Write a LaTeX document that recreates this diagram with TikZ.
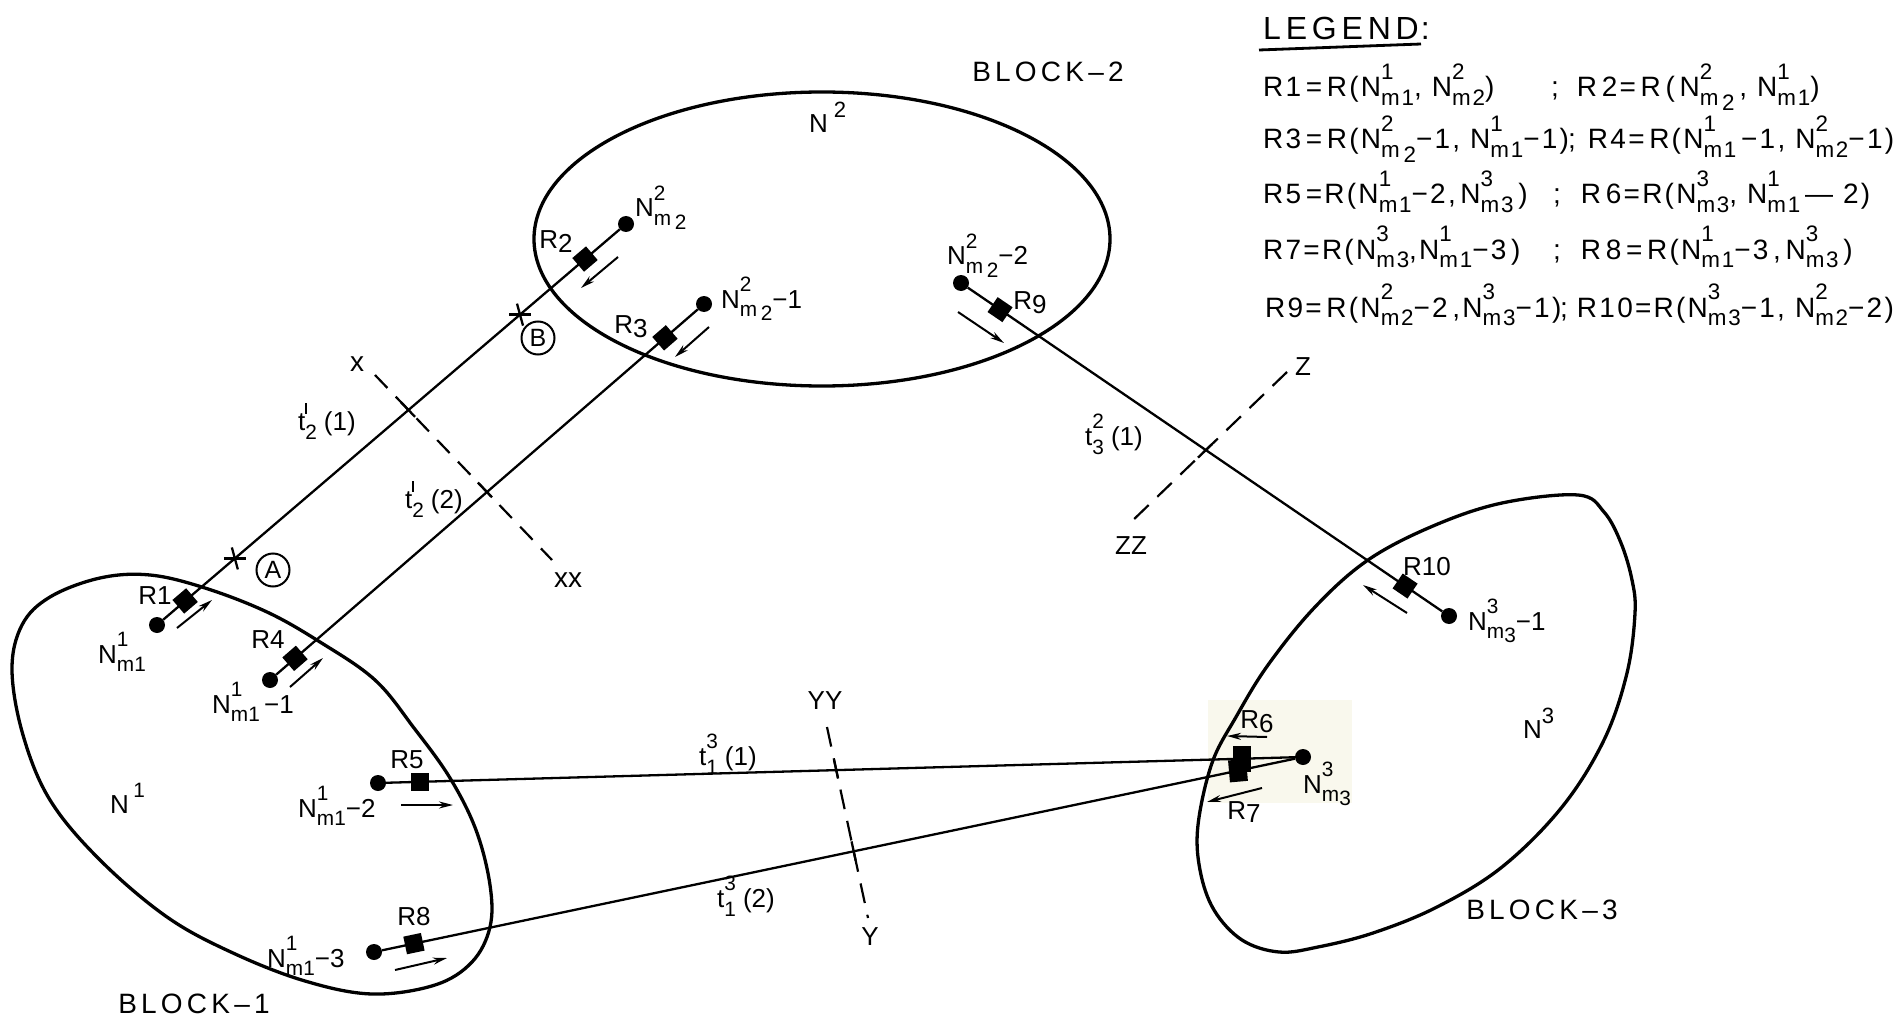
\documentclass[tikz,border=0pt]{standalone}
\usepackage{fontspec}
\setmainfont{Liberation Sans}
\newfontfamily\spacedfont[LetterSpace=15]{Liberation Sans}
\newfontfamily\legfont[LetterSpace=8]{Liberation Sans}
\usepackage{graphicx}
\usetikzlibrary{calc,arrows.meta}
\newcommand\sx[1]{\scalebox{0.8}{#1}}
\newcommand\Nn[2]{N\rlap{\raisebox{0.62em}{\sx{#1}}}\raisebox{-0.32em}{\sx{#2}}}
\newcommand\Tl[3]{t\rlap{\raisebox{0.62em}{\sx{#1}}}\raisebox{-0.35em}{\sx{#2}}\hspace{7pt}#3}
\newcommand\Rl[1]{R\raisebox{-0.15em}{#1}}
\newcommand\pr{\rule{2pt}{0.5em}}
\newcommand\mm[1]{m\,\raisebox{-0.2em}{#1}}
\definecolor{patchc}{RGB}{249,248,237}
\begin{document}
\begin{tikzpicture}[x=1pt,y=-1pt,
  dotn/.style={circle, fill=black, inner sep=0pt, minimum size=16pt},
  sqn/.style={rectangle, fill=black, inner sep=0pt, minimum size=18pt},
  conn/.style={line width=2.3pt},
  blk/.style={line width=3.3pt},
  dirarr/.style={line width=2pt, -{Stealth[length=14pt,width=7pt]}},
  dsh/.style={line width=2.2pt, dash pattern=on 20pt off 12pt},
  lab/.style={inner sep=0pt, font=\fontsize{26}{28}\selectfont},
  lbw/.style={inner sep=0pt, anchor=base west, font=\fontsize{26}{28}\selectfont},
  leg/.style={inner sep=0pt, anchor=base west, font={\fontsize{28}{30}\legfont}},
  blkname/.style={inner sep=0pt, font={\fontsize{28}{30}\spacedfont}},
  circl/.style={circle, draw, line width=2pt, minimum size=33pt, inner sep=0pt, font=\fontsize{25}{27}\selectfont}
]
\fill[white] (0,0) rectangle (1901,1019);
\useasboundingbox (0,0) rectangle (1901,1019);

% scan tint
\fill[patchc] (1208,700) rectangle (1352,803);

% blocks
\draw[blk] (822,239) ellipse [x radius=288, y radius=147];
\draw[blk] plot[smooth cycle, tension=0.6] coordinates {(150,575) (205,588) (267,612) (320,642) (375,680) (414,728) (450,778) (476,830) (490,885) (490,927) (472,962) (435,985) (372,994) (305,981) (233,953) (167,917) (100,860) (50,800) (23,735) (12,670) (22,625) (50,597) (100,578)};
\draw[blk] plot[smooth cycle, tension=0.6] coordinates {(1578,495) (1604,512) (1621,543) (1632,580) (1635,613) (1627,673) (1604,740) (1562,807) (1502,867) (1437,907) (1373,933) (1318,947) (1279,952) (1242,940) (1214,910) (1200,870) (1198,825) (1212,763) (1236,717) (1268,665) (1315,607) (1368,560) (1433,526) (1502,503)};

% dots
\node[dotn] (n1a) at (157,625) {};
\node[dotn] (n1b) at (270,680) {};
\node[dotn] (n1c) at (378,783) {};
\node[dotn] (n1d) at (374,952) {};
\node[dotn] (n2a) at (626,224) {};
\node[dotn] (n2b) at (704,304) {};
\node[dotn] (n2c) at (961,283) {};
\node[dotn] (n3a) at (1303,757) {};
\node[dotn] (n3b) at (1449,616) {};

% connectors
\draw[conn] (n1a) -- (n2a);
\draw[conn] (n1b) -- (n2b);
\draw[conn] (n2c) -- (n3b);
\draw[conn] (n1c) -- (n3a);
\draw[conn] (n1d) -- (n3a);

% R squares
\node[sqn, rotate=40.5] (r1) at ($(n1a)!0.06!(n2a)$) {};
\node[sqn, rotate=40.5] (r2) at ($(n1a)!0.9126!(n2a)$) {};
\node[sqn, rotate=40.9] (r4) at ($(n1b)!0.0576!(n2b)$) {};
\node[sqn, rotate=40.9] (r3) at ($(n1b)!0.91!(n2b)$) {};
\node[sqn, rotate=-34.2] (r9) at ($(n2c)!0.08!(n3b)$) {};
\node[sqn, rotate=-34.2] (r10) at ($(n2c)!0.91!(n3b)$) {};
\node[sqn] (r5) at ($(n1c)!0.0454!(n3a)$) {};
\node[sqn, rotate=11.85] (r8) at ($(n1d)!0.043!(n3a)$) {};
\node[sqn, minimum width=18pt, minimum height=26pt] (r6) at ($(n1c)!0.934!(n3a)$) {};
\node[sqn, minimum width=18pt, minimum height=22pt, rotate=5] (r7) at ($(n1d)!0.93!(n3a)$) {};

% stars A and B
\coordinate (sA) at ($(n1a)!0.166!(n2a)$);
\coordinate (sB) at ($(n1a)!0.774!(n2a)$);
\foreach \s in {sA,sB}{
  \draw[conn] ($(\s)+(-11,0)$) -- ($(\s)+(11,0)$);
  \draw[conn] ($(\s)+(-3,-11)$) -- ($(\s)+(3,11)$);
}
\node[circl] (cA) at (273,570) {A};
\node[circl] (cB) at (538,338) {B};

% dashed section lines
\coordinate (x1) at (375,375); \coordinate (x2) at (552,560);
\draw[dsh, dash pattern=on 18pt off 12pt] (x1) -- (x2);
\foreach \f in {0.186,0.621}{\draw[conn] ($(x1)!\f-0.04!(x2)$) -- ($(x1)!\f+0.04!(x2)$);}
\coordinate (y1) at (827,727); \coordinate (y2) at (868,918);
\draw[dsh] (y1) -- (y2);
\foreach \f in {0.22,0.649}{\draw[conn] ($(y1)!\f-0.05!(y2)$) -- ($(y1)!\f+0.05!(y2)$);}
\coordinate (z1) at (1287,372); \coordinate (z2) at (1130,523);
\draw[dsh] (z1) -- (z2);
\draw[conn] ($(z1)!0.477!(z2)$) -- ($(z1)!0.567!(z2)$);

\node[inner sep=0pt, font=\fontsize{28}{30}\selectfont] (lx) at (357,364) {x};
\node[inner sep=0pt, font=\fontsize{28}{30}\selectfont] (lxx) at (568,580) {xx};
\node[lab] (lyy) at (825,701) {YY};
\node[lab] (ly) at (870,937) {Y};
\node[lab] (lz) at (1303,367) {Z};
\node[lab] (lzz) at (1131,546) {ZZ};

% direction arrows
\coordinate (a1s) at (177,628); \coordinate (a1e) at (212,600);
\coordinate (a4s) at (290,687); \coordinate (a4e) at (323,658);
\coordinate (a2s) at (618,257); \coordinate (a2e) at (581,288);
\coordinate (a3s) at (709,327); \coordinate (a3e) at (675,357);
\coordinate (a9s) at (958,312); \coordinate (a9e) at (1004,343);
\coordinate (a10s) at (1407,613); \coordinate (a10e) at (1363,585);
\coordinate (a5s) at (401,805); \coordinate (a5e) at (453,805);
\coordinate (a8s) at (395,970); \coordinate (a8e) at (447,958);
\coordinate (a6s) at (1267,737); \coordinate (a6e) at (1227,736);
\coordinate (a7s) at (1262,788); \coordinate (a7e) at (1207,802);
\foreach \a in {1,2,3,4,5,6,7,8,9,10}{\draw[dirarr] (a\a s) -- (a\a e);}

% R labels
\node[lab] (lr1) at (155,596) {R1};
\node[lab] (lr2) at (556,242) {\Rl{2}};
\node[lab] (lr3) at (631,327) {\Rl{3}};
\node[lab] (lr4) at (268,640) {R4};
\node[lab] (lr5) at (407,760) {R5};
\node[lab] (lr6) at (1257,722) {\Rl{6}};
\node[lab] (lr7) at (1244,812) {\Rl{7}};
\node[lab] (lr8) at (414,917) {R8};
\node[lab] (lr9) at (1030,303) {\Rl{9}};
\node[lab] (lr10) at (1427,567) {R10};

% N labels
\node[lbw] (ln2a) at (635,217) {\Nn{2}{\mm{2}}};
\node[lbw] (ln2b) at (721,308) {\Nn{2}{\mm{2}}−1};
\node[lbw] (ln2c) at (947,265) {\Nn{2}{\mm{2}}−2};
\node[lbw] (ln1a) at (98,663) {\Nn{1}{m1}};
\node[lbw] (ln1b) at (212,713) {\Nn{1}{m1}\,−1};
\node[lbw] (ln1c) at (298,817) {\Nn{1}{m1}−2};
\node[lbw] (ln1d) at (267,967) {\Nn{1}{m1}−3};
\node[lbw] (ln3b) at (1468,630) {\Nn{3}{m\raisebox{-0.2em}{3}}−1};
\node[lbw] (ln3a) at (1303,793) {\Nn{3}{m\raisebox{-0.2em}{3}}};
\node[lbw] (lN1) at (110,813) {N\,\raisebox{0.6em}{\scalebox{0.8}{1}}};
\node[lbw] (lN2) at (809,133) {N\hspace{6pt}\raisebox{0.6em}{\scalebox{0.85}{2}}};
\node[lbw] (lN3) at (1523,738) {N\raisebox{0.55em}{\scalebox{0.85}{3}}};

% t labels
\node[lbw] (lt1) at (298,430) {\Tl{\pr}{2}{(1)}};
\node[lbw] (lt2) at (405,508) {\Tl{\pr}{2}{(2)}};
\node[lbw] (lt3) at (1085,445) {\Tl{2}{3}{(1)}};
\node[lbw] (lt4) at (699,765) {\Tl{3}{1}{(1)}};
\node[lbw] (lt5) at (717,907) {\Tl{3}{1}{(2)}};

% block names
\node[blkname] (b2) at (1048,72) {BLOCK–2};
\node[blkname] (b1) at (194,1004) {BLOCK–1};
\node[blkname] (b3) at (1542,910) {BLOCK–3};

% legend
\node[inner sep=0pt, anchor=base west, font={\fontsize{32}{34}\spacedfont}] (legt) at (1263,40) {LEGEND\hspace{2pt}:};
\coordinate (u1) at (1259,50); \coordinate (u2) at (1421,44);
\draw[line width=2.8pt] (u1) -- (u2);

\node[leg] (l1a) at (1263,97) {R1\,=\,R(\Nn{1}{m1}, \Nn{2}{m2})};
\node[leg] (l1b) at (1551,97) {;\hspace{18pt}R\,2=\,R\,(\,\Nn{2}{\mm{2}}\,, \Nn{1}{m1})};
\node[leg] (l2a) at (1263,149) {R3\,=\,R(\Nn{2}{\mm{2}}−1, \Nn{1}{m1}−1)};
\node[leg] (l2b) at (1568,149) {;\hspace{12pt}R4=\,R(\Nn{1}{m1}\,−1, \Nn{2}{m2}−1)};
\node[leg] (l3a) at (1263,204) {R5\,=R(\Nn{1}{m1}−2,\,\Nn{3}{m3}\,)};
\node[leg] (l3b) at (1553,204) {;\hspace{20pt}R\,6=R(\Nn{3}{m3},\ \Nn{1}{m1}\,—\ 2)};
\node[leg] (l4a) at (1263,259) {R7=R(\Nn{3}{m3},\Nn{1}{m1}−3\,)};
\node[leg] (l4b) at (1553,259) {;\hspace{20pt}R\,8\,=\,R(\Nn{1}{m1}−3\,,\,\Nn{3}{m3}\,)};
\node[leg] (l5a) at (1265,317) {R9=\,R(\Nn{2}{m2}−2\,,\Nn{3}{m3}−1)};
\node[leg] (l5b) at (1560,317) {;\hspace{9pt}R10=R(\Nn{3}{m3}−1, \Nn{2}{m2}−2)};
\end{tikzpicture}
\end{document}
